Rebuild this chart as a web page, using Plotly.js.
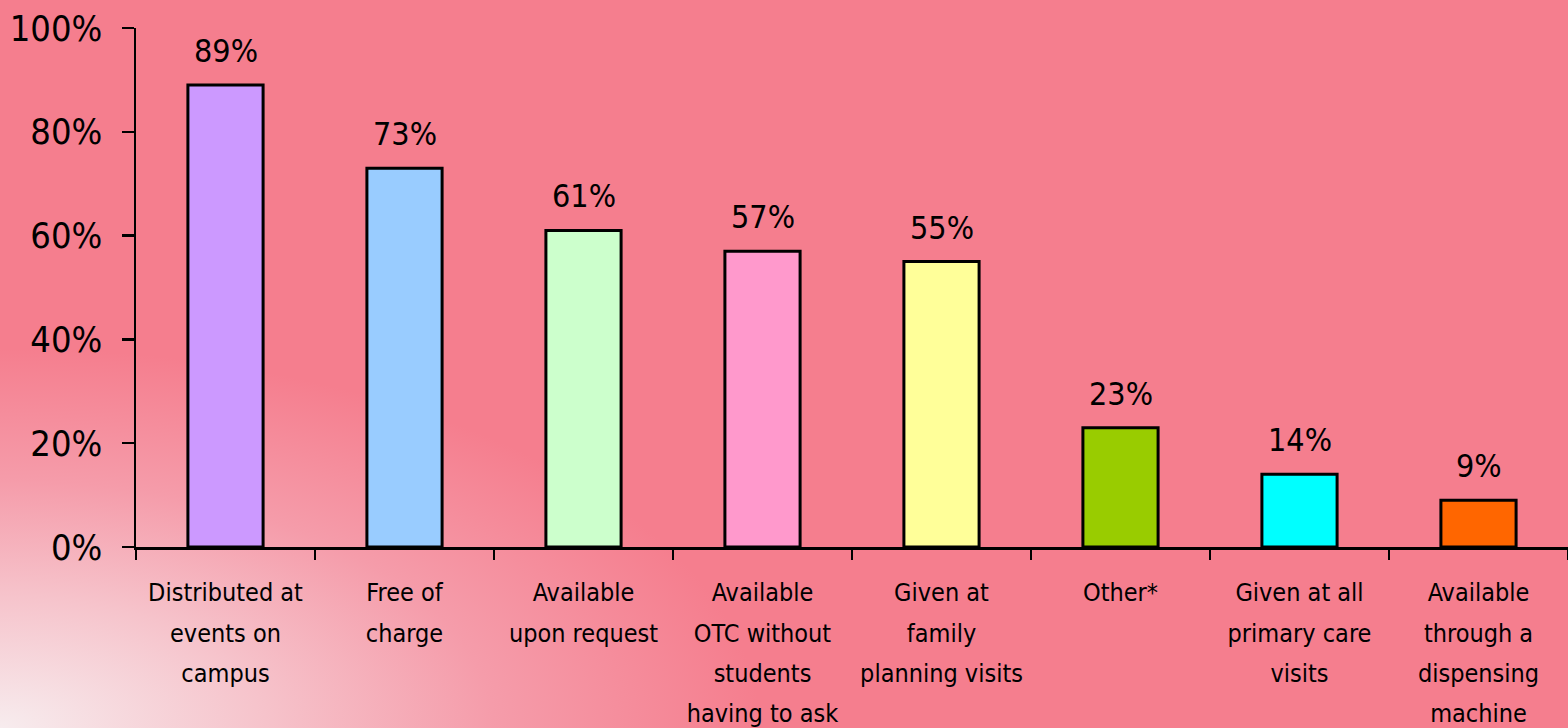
<!DOCTYPE html>
<html>
<head>
<meta charset="utf-8">
<script src="https://cdn.plot.ly/plotly-3.0.1.min.js"></script>
<style>
  html, body { margin:0; padding:0; width:1568px; height:728px; overflow:hidden; }
  body {
    background-color:#F57E8E;
    background-image: radial-gradient(ellipse 760px 380px at 0% 100%, #F7ECEE 0%, #F6C3CB 35%, #F59CAA 65%, rgba(245,126,142,0) 100%);
  }
  #chart { width:1568px; height:728px; }
</style>
</head>
<body>
<div id="chart"></div>
<script>
const categories = [
  "Distributed at<br>events on<br>campus",
  "Free of<br>charge",
  "Available<br>upon request",
  "Available<br>OTC without<br>students<br>having to ask",
  "Given at<br>family<br>planning visits",
  "Other*",
  "Given at all<br>primary care<br>visits",
  "Available<br>through a<br>dispensing<br>machine"
];
const values = [89, 73, 61, 57, 55, 23, 14, 9];
const valueLabels = ["89%", "73%", "61%", "57%", "55%", "23%", "14%", "9%"];
const barColors = ["#CC99FF", "#99CCFF", "#CCFFCC", "#FF99CC", "#FFFF99", "#99CC00", "#00FFFF", "#FF6600"];
const yTickVals = [0, 20, 40, 60, 80, 100];
const yTickText = ["0%", "20%", "40%", "60%", "80%", "100%"];

const tickText = categories.map(c => c.split("<br>").map(l => '<span style="font-size:25px">' + l + '</span>').join("<br>"));

const trace = {
  type: "bar",
  x: categories,
  y: values,
  marker: { color: barColors, line: { color: "#000000", width: 3 } },
  hoverinfo: "none"
};

const annotations = categories.map((c, i) => ({
  x: c, y: values[i], xref: "x", yref: "y",
  text: valueLabels[i], showarrow: false,
  yanchor: "bottom", yshift: 13,
  font: { family: "DejaVu Sans Condensed, DejaVu Sans, sans-serif", size: 32, color: "#000" }
}));

const layout = {
  width: 1568, height: 728,
  paper_bgcolor: "rgba(0,0,0,0)",
  plot_bgcolor: "rgba(0,0,0,0)",
  margin: { l: 136, r: 0, t: 28, b: 181 },
  showlegend: false,
  bargap: 0.58,
  xaxis: {
    type: "category",
    tickvals: categories,
    ticktext: tickText,
    tickson: "boundaries",
    ticks: "outside", ticklen: 10, tickwidth: 2, tickcolor: "#000",
    showline: true, linecolor: "#000", linewidth: 3,
    showgrid: false, zeroline: false,
    tickangle: 0,
    ticklabelstandoff: 14,
    tickfont: { family: "Liberation Sans Narrow, DejaVu Sans Condensed, sans-serif", size: 31, color: "#000" },
    automargin: false
  },
  yaxis: {
    range: [0, 100],
    tickvals: yTickVals,
    ticktext: yTickText,
    ticks: "outside", ticklen: 12, tickwidth: 2.5, tickcolor: "#000",
    showline: true, linecolor: "#000", linewidth: 2.5,
    showgrid: false, zeroline: false,
    ticklabelstandoff: 12,
    tickfont: { family: "DejaVu Sans Condensed, DejaVu Sans, sans-serif", size: 36, color: "#000" },
    automargin: false
  },
  annotations: annotations
};

Plotly.newPlot("chart", [trace], layout, { displayModeBar: false, staticPlot: true });
</script>
</body>
</html>
